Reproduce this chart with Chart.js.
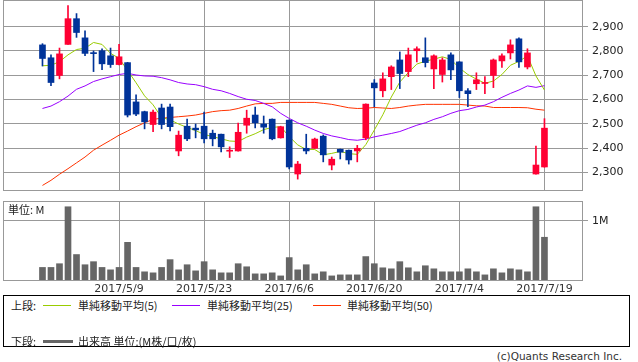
<!DOCTYPE html>
<html>
<head>
<meta charset="utf-8">
<script src="https://cdn.jsdelivr.net/npm/chart.js@4.4.1/dist/chart.umd.min.js"></script>
<style>
body{margin:0;background:#fff;width:638px;height:362px;overflow:hidden;position:relative;font-family:"DejaVu Sans",sans-serif;color:#222;}
canvas{position:absolute;left:0;}
#main{top:0;}
#vol{top:195px;}
.t{position:absolute;font-size:11px;line-height:13px;white-space:nowrap;font-family:"DejaVu Sans","Noto Sans CJK JP",sans-serif;}
.jp{font-family:"Noto Sans CJK JP",sans-serif;}
.sw{position:absolute;height:0;width:28px;border-top:1px solid #000;}
#box{position:absolute;left:3px;top:295px;width:625px;height:50px;border:1px solid #000;}
</style>
</head>
<body>
<canvas id="main" width="638" height="192"></canvas>
<canvas id="vol" width="638" height="100"></canvas>

<div class="t jp" style="left:8px;top:203px;">単位: M</div>

<div id="box"></div>
<div class="t jp" style="left:11px;top:299px;">上段:</div>
<div class="sw" style="left:43px;top:305px;border-color:#99cc00;"></div>
<div class="t jp" style="left:78px;top:299px;">単純移動平均(5)</div>
<div class="sw" style="left:172px;top:305px;border-color:#9900ff;"></div>
<div class="t jp" style="left:207px;top:299px;">単純移動平均(25)</div>
<div class="sw" style="left:313px;top:305px;border-color:#ff3300;"></div>
<div class="t jp" style="left:347px;top:299px;">単純移動平均(50)</div>
<div class="t jp" style="left:11px;top:335px;">下段:</div>
<div class="sw" style="left:43px;top:340px;width:30px;border-top:3px solid #666;"></div>
<div class="t jp" style="left:78px;top:335px;">出来高 単位:(M株/口/枚)</div>
<div class="t" style="right:16px;top:350px;color:#333;font-size:10.5px;">(c)Quants Research Inc.</div>

<script>
// 日付 (2017/4/21 - 2017/7/19)
var dates = ['2017/4/21','2017/4/24','2017/4/25','2017/4/26','2017/4/27','2017/4/28',
  '2017/5/1','2017/5/2','2017/5/8','2017/5/9','2017/5/10','2017/5/11','2017/5/12',
  '2017/5/15','2017/5/16','2017/5/17','2017/5/18','2017/5/19','2017/5/22','2017/5/23',
  '2017/5/24','2017/5/25','2017/5/26','2017/5/29','2017/5/30','2017/5/31','2017/6/1','2017/6/2',
  '2017/6/5','2017/6/6','2017/6/7','2017/6/8','2017/6/9','2017/6/12','2017/6/13','2017/6/14',
  '2017/6/15','2017/6/16','2017/6/19','2017/6/20','2017/6/21','2017/6/22','2017/6/23',
  '2017/6/26','2017/6/27','2017/6/28','2017/6/29','2017/6/30','2017/7/3','2017/7/4',
  '2017/7/5','2017/7/6','2017/7/7','2017/7/10','2017/7/11','2017/7/12','2017/7/13','2017/7/14',
  '2017/7/18','2017/7/19'];
var tickDates = ['2017/5/9','2017/5/23','2017/6/6','2017/6/20','2017/7/4','2017/7/19'];
var priceTicks = [2300, 2400, 2500, 2600, 2700, 2800, 2900];
var volTicks = [1];

var opens = [2825,2772,2699,2827,2933,2854,2791,2801,2780,2744,2752,2590,2550,2497,2565,2569,2388,2490,2482,2490,
  2461,2457,2387,2388,2494,2536,2499,2519,2442,2515,2293,2399,2399,2449,2330,2395,2391,2388,2442,2668,
  2636,2694,2763,2715,2801,2772,2726,2703,2784,2755,2636,2665,2666,2699,2759,2792,2850,2734,2293,2322];
var highs = [2830,2784,2812,2987,2954,2883,2800,2809,2812,2827,2753,2619,2552,2556,2581,2581,2470,2519,2499,2548,
  2474,2458,2405,2503,2556,2569,2532,2520,2490,2516,2345,2457,2441,2454,2363,2396,2392,2411,2582,2682,
  2710,2739,2796,2812,2817,2854,2784,2772,2792,2756,2645,2710,2694,2767,2788,2846,2854,2809,2408,2521];
var lows = [2738,2657,2685,2827,2856,2781,2715,2723,2732,2742,2528,2533,2479,2467,2479,2471,2368,2430,2442,2421,
  2409,2384,2361,2387,2461,2483,2461,2434,2441,2314,2272,2376,2398,2343,2310,2355,2334,2343,2434,2570,
  2611,2641,2645,2694,2755,2734,2645,2672,2682,2608,2570,2641,2624,2649,2732,2767,2732,2726,2292,2321];
var closes = [2769,2670,2788,2933,2876,2790,2789,2747,2744,2776,2536,2540,2508,2548,2497,2488,2453,2438,2475,2438,
  2438,2405,2389,2465,2523,2504,2486,2438,2488,2322,2334,2388,2437,2372,2354,2383,2351,2399,2581,2648,
  2685,2734,2707,2784,2809,2752,2780,2763,2722,2636,2624,2681,2670,2763,2780,2825,2755,2792,2330,2482];

// 移動平均
var ma5 = [2739,2741,2756,2784,2806,2811,2835,2827,2790,2770,2720,2669,2615,2578,2526,2516,2499,2485,2472,2456,
  2447,2438,2429,2427,2445,2459,2476,2485,2488,2447,2413,2394,2394,2372,2378,2386,2377,2374,2414,2474,
  2537,2610,2672,2711,2746,2758,2766,2776,2765,2730,2703,2684,2667,2676,2703,2741,2757,2780,2697,2639];
var ma25 = [2563,2573,2591,2614,2642,2656,2674,2685,2694,2703,2708,2701,2697,2696,2690,2681,2670,2664,2661,2653,
  2642,2636,2625,2612,2601,2596,2584,2570,2543,2522,2504,2490,2474,2460,2450,2443,2435,2432,2437,2446,
  2453,2460,2468,2481,2494,2504,2518,2529,2543,2554,2559,2569,2577,2591,2609,2625,2639,2656,2650,2657];
var ma50 = [2246,2267,2292,2315,2339,2363,2391,2412,2432,2453,2470,2488,2504,2518,2523,2526,2529,2532,2536,2543,
  2550,2554,2556,2563,2573,2582,2584,2584,2588,2588,2588,2588,2588,2584,2580,2573,2566,2563,2564,2567,
  2565,2563,2567,2573,2577,2580,2580,2580,2580,2580,2577,2574,2573,2567,2567,2567,2567,2566,2560,2556];

// 出来高 (M)
var volumes = [0.226,0.226,0.288,1.237,0.441,0.271,0.322,0.226,0.186,0.226,0.644,0.226,0.153,0.136,0.226,0.356,0.186,0.271,0.169,0.322,
  0.186,0.136,0.136,0.288,0.237,0.119,0.119,0.136,0.085,0.390,0.186,0.271,0.119,0.153,0.085,0.102,0.102,0.102,0.407,0.288,
  0.220,0.203,0.322,0.220,0.153,0.254,0.203,0.153,0.153,0.153,0.203,0.153,0.102,0.203,0.136,0.203,0.186,0.153,1.237,0.729];

var UP = '#ff0033', DOWN = '#003399', GRID = '#999999';
var tickIdx = tickDates.map(function(d){ return dates.indexOf(d); });
var xMin = -4.64, xMax = 63.53;

// 枠線
var frame = {
  id: 'frame',
  afterDraw: function(chart){
    var a = chart.chartArea, ctx = chart.ctx;
    ctx.save();
    ctx.strokeStyle = GRID;
    ctx.lineWidth = 1;
    ctx.strokeRect(a.left + 0.5, a.top + 0.5, a.right - a.left - 1, a.bottom - a.top - 1);
    ctx.restore();
  }
};

function xScale(showLabels){
  return {
    type: 'linear', min: xMin, max: xMax, offset: false,
    afterBuildTicks: function(s){ s.ticks = tickIdx.map(function(v){ return {value: v}; }); },
    afterFit: function(s){ s.height = showLabels ? 14 : 0; s.paddingLeft = 0; s.paddingRight = 0; },
    grid: { color: GRID, drawTicks: false, offset: false },
    border: { display: false },
    ticks: {
      display: showLabels, autoSkip: false, maxRotation: 0, padding: 2,
      color: '#333', font: { family: 'DejaVu Sans', size: 11 },
      callback: function(v){ return dates[v]; }
    }
  };
}

function yFit(s){ s.width = 55; s.paddingTop = 0; s.paddingBottom = 0; }

function pt(arr){ return arr.map(function(v, i){ return {x: i, y: v}; }); }
var colors = closes.map(function(c, i){ return c >= opens[i] ? UP : DOWN; });

Chart.defaults.animation = false;

// 上段: ローソク足 + 移動平均
new Chart(document.getElementById('main'), {
  type: 'bar',
  data: {
    datasets: [
      { type: 'line', data: pt(ma5), borderColor: '#99cc00', borderWidth: 1, pointRadius: 0, order: 3 },
      { type: 'line', data: pt(ma25), borderColor: '#9900ff', borderWidth: 1, pointRadius: 0, order: 4 },
      { type: 'line', data: pt(ma50), borderColor: '#ff3300', borderWidth: 1, pointRadius: 0, order: 5 },
      { data: lows.map(function(l, i){ return {x: i, y: [l, highs[i]]}; }),
        backgroundColor: colors, barThickness: 1, grouped: false, order: 2 },
      { data: opens.map(function(o, i){ return {x: i, y: [o, closes[i]]}; }),
        backgroundColor: colors, barThickness: 6, minBarLength: 1, grouped: false, order: 1 }
    ]
  },
  options: {
    responsive: false,
    layout: { padding: { left: 3, top: 0, right: 0, bottom: 1 } },
    plugins: { legend: { display: false }, tooltip: { enabled: false } },
    scales: {
      x: xScale(false),
      y: {
        position: 'right', min: 2223, max: 3010,
        afterBuildTicks: function(s){ s.ticks = priceTicks.map(function(v){ return {value: v}; }); },
        afterFit: yFit,
        grid: { color: GRID, tickLength: 5 },
        border: { display: false },
        ticks: {
          padding: 4, color: '#222', font: { family: 'DejaVu Sans', size: 11 },
          callback: function(v){ return v.toLocaleString('en-US'); }
        }
      }
    }
  },
  plugins: [frame]
});

// 下段: 出来高
new Chart(document.getElementById('vol'), {
  type: 'bar',
  data: {
    datasets: [{ data: pt(volumes), backgroundColor: '#666666', barThickness: 6 }]
  },
  options: {
    responsive: false,
    layout: { padding: { left: 3, top: 6, right: 0, bottom: 0 } },
    plugins: { legend: { display: false }, tooltip: { enabled: false } },
    scales: {
      x: xScale(true),
      y: {
        position: 'right', min: 0, max: 1.333,
        afterBuildTicks: function(s){ s.ticks = volTicks.map(function(v){ return {value: v}; }); },
        afterFit: yFit,
        grid: { color: GRID, tickLength: 5 },
        border: { display: false },
        ticks: {
          padding: 4, color: '#222', font: { family: 'DejaVu Sans', size: 11 },
          callback: function(v){ return v + 'M'; }
        }
      }
    }
  },
  plugins: [frame]
});
</script>
</body>
</html>
